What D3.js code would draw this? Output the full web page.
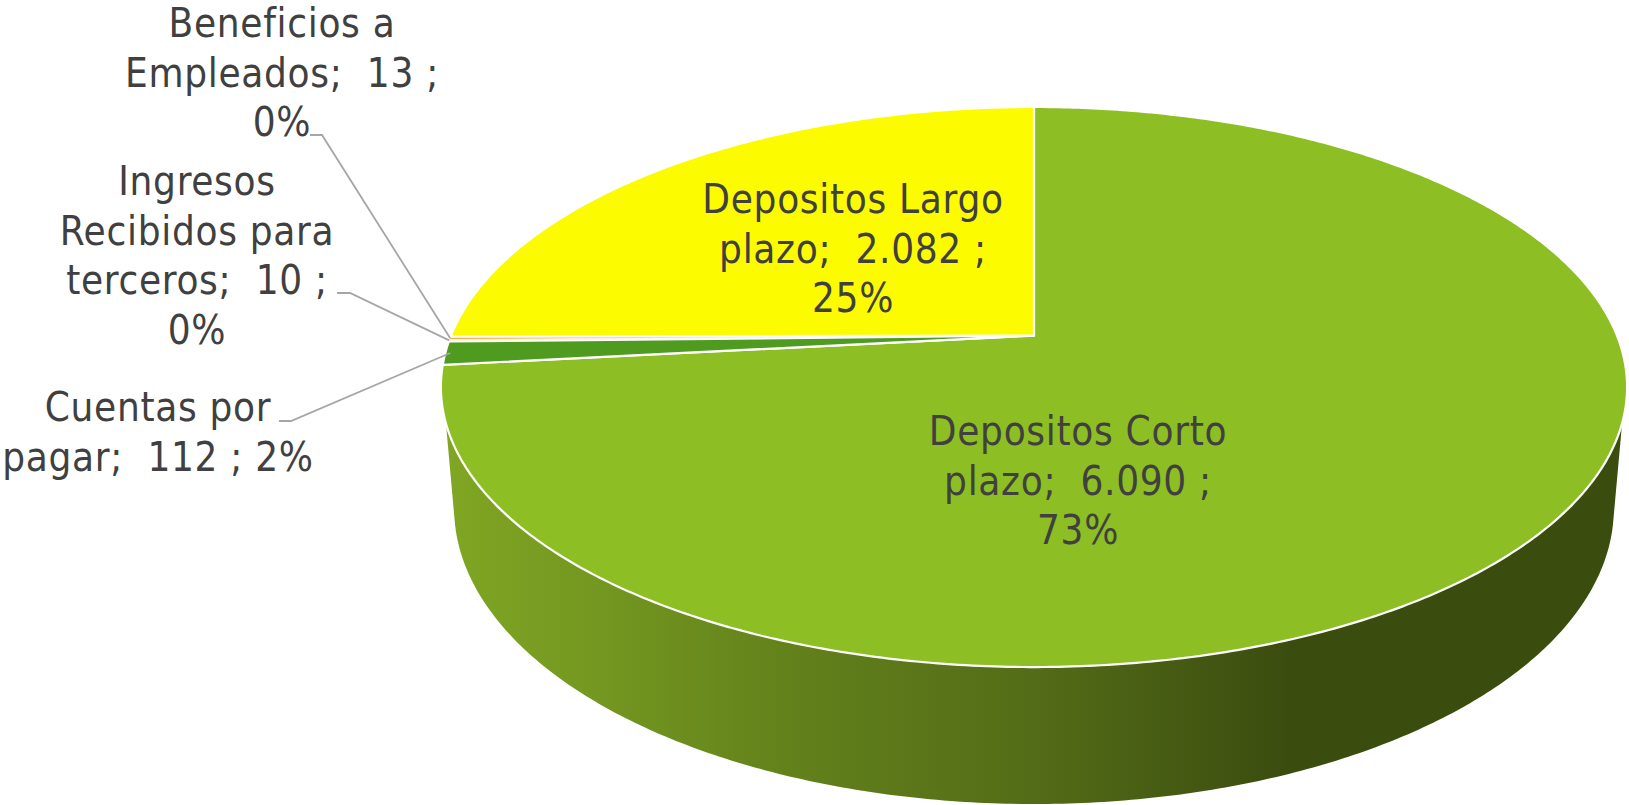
<!DOCTYPE html>
<html><head><meta charset="utf-8">
<script src="https://cdn.jsdelivr.net/npm/d3@7/dist/d3.min.js"></script>
<style>html,body{margin:0;padding:0;background:#fff}svg{display:block}
text{font-family:"DejaVu Sans Condensed","DejaVu Sans",sans-serif;font-size:40px;letter-spacing:.7px;fill:#404040;text-anchor:middle;white-space:pre}</style>
</head><body><svg id="c" width="1629" height="805"></svg>
<script>
const categories=["Depositos Corto plazo","Cuentas por pagar","Ingresos Recibidos para terceros","Beneficios a Empleados","Depositos Largo plazo"];
const seriesValues=[6090,112,10,13,2082];
const seriesPercents=[73,2,0,0,25];
const sliceColors=["#8DBE23","#4F9B20","#FDF6E8","#F5A623","#FCFB00"];
const labelLines=[
 ["Depositos Corto","plazo;  {v} ;","{p}"],
 ["Cuentas por","pagar;  {v} ; {p}"],
 ["Ingresos","Recibidos para","terceros;  {v} ;","{p}"],
 ["Beneficios a","Empleados;  {v} ;","{p}"],
 ["Depositos Largo","plazo;  {v} ;","{p}"]];
// layout
const labelAnchor=[[1078,445],[158,421],[197,195],[282,37],[853,213]];
const leaderStart=[null,[279,421,291],[337,293,350],[310,135,322],null];
const lineH=49.5;
const topPlane={cx:1034,cy:335.6,a:270.6,b:583,k:-0.1836};
const botPlane={cx:1034,cy:453.7,a:286,b:570,k:-0.1836};
const wallTop=[107.8,252.2],wallBot=[103.8,256.2];
const gradStops=[[444,"#80A623"],[600,"#739720"],[800,"#62801B"],[1034,"#536C17"],[1290,"#3B4C0F"],[1629,"#3B4C0F"]];

const svg=d3.select("#c");
const fmt=d3.formatLocale({decimal:",",thousands:".",grouping:[3],currency:["",""]}).format(",d");
const arcs=d3.pie().sort(null).value(d=>d)(seriesValues);
const proj=(pl,th)=>{const X=Math.sin(th),Y=-Math.cos(th),w=1+pl.k*Y;return [pl.cx+pl.b*X/w,pl.cy+pl.a*Y/w];};
const line=d3.line();
const rad=d=>d*Math.PI/180;
const arcPts=(pl,a0,a1)=>{const n=Math.max(2,Math.ceil(Math.abs(a1-a0)/0.01));return d3.range(n+1).map(i=>proj(pl,a0+(a1-a0)*i/n));};

const grad=svg.append("defs").append("linearGradient").attr("id","wall").attr("gradientUnits","userSpaceOnUse")
 .attr("x1",gradStops[0][0]).attr("x2",gradStops[gradStops.length-1][0]).attr("y1",0).attr("y2",0);
const gx=d3.scaleLinear().domain([gradStops[0][0],gradStops[gradStops.length-1][0]]).range([0,1]);
grad.selectAll("stop").data(gradStops).join("stop").attr("offset",d=>gx(d[0])).attr("stop-color",d=>d[1]);

// side wall
const wallPts=arcPts(topPlane,rad(wallTop[0]),rad(wallTop[1])).concat(arcPts(botPlane,rad(wallBot[1]),rad(wallBot[0])));
svg.append("path").attr("d",line(wallPts)+"Z").attr("fill","url(#wall)");

// top slices
svg.selectAll("path.slice").data(arcs).join("path").attr("class","slice")
 .attr("d",d=>line([[topPlane.cx,topPlane.cy]].concat(arcPts(topPlane,d.startAngle,d.endAngle)))+"Z")
 .attr("fill",(d,i)=>sliceColors[i]).attr("stroke","#fff").attr("stroke-width",(d,i)=>(i===2||i===3)?0.6:2.2).attr("stroke-linejoin","round");

// leaders
arcs.forEach((d,i)=>{const s=leaderStart[i];if(!s)return;
 const e=proj(topPlane,(d.startAngle+d.endAngle)/2);
 svg.append("path").attr("d",line([[s[0],s[1]],[s[2],s[1]],[e[0]+(i===1?5:0),e[1]]])).attr("fill","none").attr("stroke","#A6A6A6").attr("stroke-width",1.8);
});

// labels
arcs.forEach((d,i)=>{const pct=seriesPercents[i]+"%";
 const t=svg.append("text").attr("x",labelAnchor[i][0]).attr("y",labelAnchor[i][1]);
 labelLines[i].forEach((l,j)=>t.append("tspan").attr("x",labelAnchor[i][0]).attr("y",labelAnchor[i][1]+j*lineH)
   .text(l.replace("{v}",fmt(d.value)).replace("{p}",pct)));
});
</script></body></html>
